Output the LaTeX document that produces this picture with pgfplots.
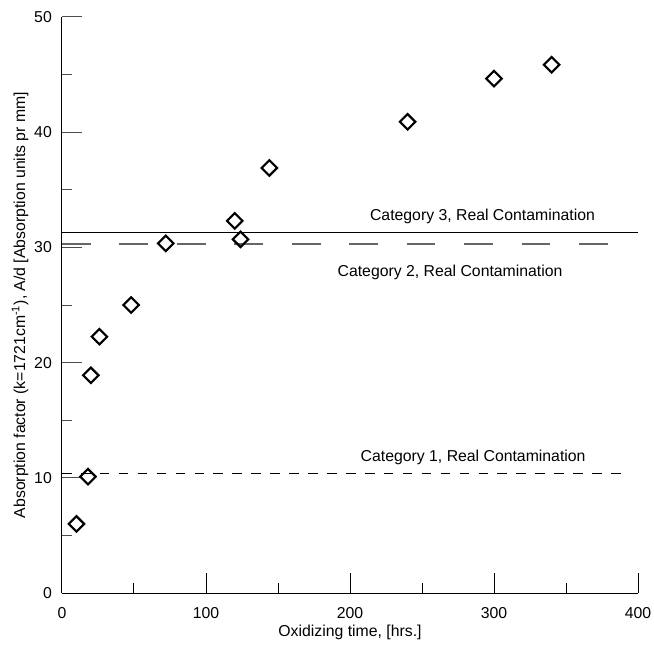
\documentclass[border=0pt]{standalone}
\usepackage{fontspec}
\setmainfont{Liberation Sans}
\usepackage{pgfplots}
\pgfplotsset{compat=1.18}
\begin{document}
\fontsize{11.85}{14}\selectfont
\begin{tikzpicture}
\begin{axis}[
  name=ax,
  x=1.08pt, y=8.64pt,
  xmin=0, xmax=400, ymin=0, ymax=50,
  axis x line*=bottom, axis y line*=left,
  axis line style={-, line width=0.75pt, black},
  tick align=inside,
  xtick={0,100,200,300,400},
  ytick={0,10,20,30,40,50},
  minor x tick num=1, minor y tick num=1,
  major tick length=15pt, minor tick length=7.5pt,
  every tick/.style={line width=0.75pt},
  x tick style={black},
  y tick style={black!70},
  /pgf/number format/assume math mode=true,
  xticklabel style={yshift=-6.5pt},
  yticklabel style={xshift=-3.5pt},
  xlabel={Oxidizing time, [hrs.]},
  ylabel={Absorption factor (k=1721cm\textsuperscript{-1}), A/d [Absorption units pr mm]},
  xlabel style={at={(axis description cs:0.5,-0.0677)}, anchor=center},
  ylabel style={at={(axis description cs:-0.0729,0.5)}, anchor=center, rotate=0},
  clip=false,
]
% Category 3 (solid)
\addplot[black, line width=0.75pt] coordinates {(0,31.3) (400,31.3)};
% Category 2 (long dashed, gray)
\addplot[black!60, line width=0.9pt, dash pattern=on 21.5pt off 21.6pt] coordinates {(0,30.3) (380,30.3)};
% Category 1 (short dashed)
\addplot[black, line width=0.75pt, dash pattern=on 7.2pt off 7pt] coordinates {(0,10.4) (393,10.4)};
% data
\addplot[only marks, mark=square, mark size=4.1pt,
  mark options={rotate=45, line width=1.6pt, draw=black, fill=white}]
  coordinates {
  (10,6.0) (18,10.1) (20,18.9) (26,22.25) (48,25.0) (72,30.35)
  (120,32.3) (124,30.7) (144,36.9) (240,40.9) (300,44.65) (340,45.86)
  };
\node at (axis cs:292,32.7) {Category 3, Real Contamination};
\node at (axis cs:269.5,27.8) {Category 2, Real Contamination};
\node at (axis cs:285.5,11.8) {Category 1, Real Contamination};
\end{axis}
\pgfresetboundingbox
\path (ax.south west) ++(-46.5pt,-38.25pt) rectangle ++(490.5pt,483pt);
\end{tikzpicture}
\end{document}
